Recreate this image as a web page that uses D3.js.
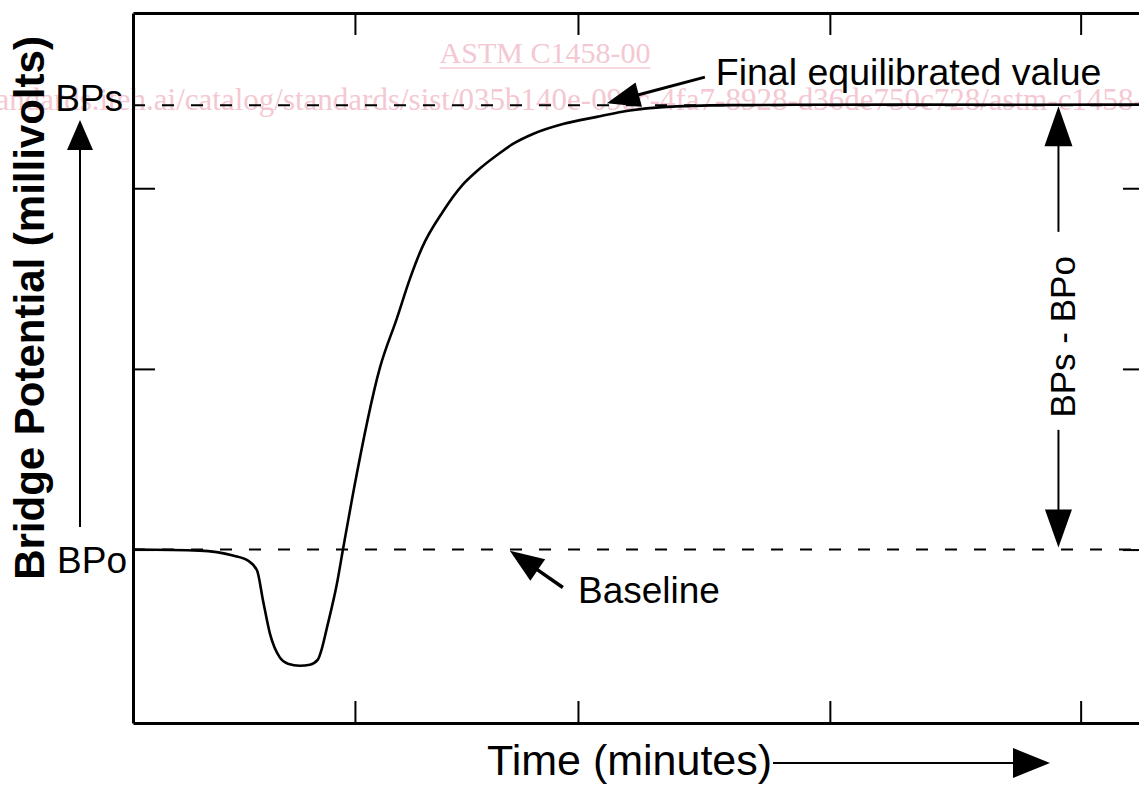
<!DOCTYPE html>
<html>
<head>
<meta charset="utf-8">
<script src="https://cdn.jsdelivr.net/npm/d3@7"></script>
<style>
  html, body { margin: 0; padding: 0; background: #fff; }
  svg { display: block; }
  text { font-family: "Liberation Sans", Arial, Helvetica, sans-serif; }
</style>
</head>
<body>
<svg id="chart" width="1139" height="785"></svg>
<script>
// trace: time (minutes) and bridge potential above BPo
const timeMin = [0, 3.0, 4.5, 5.18, 5.59, 5.86, 6.17, 6.62, 6.98, 7.52, 7.97, 8.33, 8.51, 8.74,
  9.19, 9.46, 9.9, 11.13, 11.89, 12.48, 13.02, 13.96, 14.86, 15.5, 16.53, 17.12, 18.02,
  19.37, 20.9, 22.39, 23.87, 26.89, 30, 35, 40, 45.6];
const potential = [0, -0.006, -0.033, -0.061, -0.116, -0.283, -0.465, -0.598, -0.632, -0.643,
  -0.637, -0.609, -0.548, -0.432, -0.188, 0, 0.30, 1.008, 1.28, 1.5, 1.67, 1.87, 2.02,
  2.095, 2.195, 2.245, 2.30, 2.355, 2.395, 2.43, 2.449, 2.46, 2.462, 2.463, 2.462, 2.463];

const xTickValues = [10, 20.05, 31.4, 42.7];
const yTickValues = [0, 1, 2];
const levelNames = ["BPo", "BPs"];
const levelValues = [0, 2.46];

const watermarkTitle = "ASTM C1458-00";
const watermarkUrl = "https://standards.iteh.ai/catalog/standards/sist/035b140e-09ac-4fa7-8928-d36de750c728/astm-c1458-00";

const svg = d3.select("#chart");
const plotL = 133, plotT = 13, plotR = 1145, plotB = 723;

const x = d3.scaleLinear().domain([0, 45.6]).range([plotL, plotR]);
const y = d3.scaleLinear().domain([-0.96, 2.97]).range([plotB, plotT]);

// watermark behind everything
const pink = "#f4c8d2";
const wm = svg.append("g").style("font-family", '"Liberation Serif", "Times New Roman", serif');
const wt = wm.append("text")
  .attr("x", 545).attr("y", 63)
  .attr("text-anchor", "middle")
  .style("font-family", "inherit")
  .style("font-size", "30px")
  .attr("fill", pink)
  .text(watermarkTitle);
const wtLen = wt.node().getComputedTextLength();
wm.append("line")
  .attr("x1", 545 - wtLen / 2).attr("x2", 545 + wtLen / 2)
  .attr("y1", 68).attr("y2", 68)
  .attr("stroke", pink).attr("stroke-width", 1.5);
const wu = wm.append("text")
  .attr("y", 110)
  .style("font-family", "inherit")
  .style("font-size", "31px")
  .attr("fill", pink)
  .text(watermarkUrl);
const idx = watermarkUrl.indexOf("/sist/");
wu.attr("x", 400 - wu.node().getSubStringLength(0, idx));

// dashed reference levels
svg.append("g").selectAll("line")
  .data(levelValues)
  .join("line")
  .attr("x1", plotL).attr("x2", plotR)
  .attr("y1", d => y(d)).attr("y2", d => y(d))
  .attr("stroke", "#000").attr("stroke-width", 2)
  .attr("stroke-dasharray", "12,17");

// frame with inward ticks on all four sides
function frame(axis, tr) {
  const g = svg.append("g").attr("transform", tr)
    .call(axis.tickSize(-22).tickSizeOuter(0).tickFormat(""));
  g.select(".domain").attr("stroke", "#000").attr("stroke-width", 3);
  g.selectAll(".tick line").attr("stroke", "#000").attr("stroke-width", 2);
}
frame(d3.axisBottom(x).tickValues(xTickValues), `translate(0,${plotB})`);
frame(d3.axisTop(x).tickValues(xTickValues), `translate(0,${plotT})`);
frame(d3.axisLeft(y).tickValues(yTickValues), `translate(${plotL},0)`);
frame(d3.axisRight(y).tickValues(yTickValues), `translate(${plotR},0)`);

// the trace
const line = d3.line()
  .x((d, i) => x(timeMin[i]))
  .y(d => y(d))
  .curve(d3.curveMonotoneX);
svg.append("path")
  .datum(potential)
  .attr("d", line)
  .attr("fill", "none")
  .attr("stroke", "#000")
  .attr("stroke-width", 2.6);

// arrow helper: shaft from tail to head base, filled triangle at tip
function arrow(x1, y1, x2, y2, len, wid, sw) {
  const dx = x2 - x1, dy = y2 - y1, d = Math.hypot(dx, dy);
  const ux = dx / d, uy = dy / d;
  const bx = x2 - ux * len, by = y2 - uy * len;
  svg.append("line")
    .attr("x1", x1).attr("y1", y1).attr("x2", bx + ux * 2).attr("y2", by + uy * 2)
    .attr("stroke", "#000").attr("stroke-width", sw || 2.5);
  svg.append("path")
    .attr("d", `M${x2},${y2}L${bx - uy * wid / 2},${by + ux * wid / 2}L${bx + uy * wid / 2},${by - ux * wid / 2}Z`)
    .attr("fill", "#000");
}

// level labels
svg.append("g").selectAll("text")
  .data(levelNames)
  .join("text")
  .attr("x", (d, i) => i === 0 ? 127 : 123)
  .attr("y", (d, i) => y(levelValues[i]) + (i === 0 ? 23 : 6))
  .attr("text-anchor", "end")
  .style("font-size", "37px")
  .text(d => d);

// y title
svg.append("text")
  .attr("transform", "translate(44,308) rotate(-90)")
  .attr("text-anchor", "middle")
  .style("font-size", "42px")
  .style("font-weight", "bold")
  .text("Bridge Potential (millivolts)");

// upward arrow next to the y title
arrow(80, 527, 80, 120, 30, 26, 2);

// x title and arrow
svg.append("text")
  .attr("x", 487).attr("y", 775)
  .style("font-size", "43px")
  .text("Time (minutes)");
arrow(773, 763, 1050, 763, 37, 30, 2);

// final value annotation
arrow(x(25.77), y(2.615), x(21.35), y(2.471), 33, 25, 3);
svg.append("text")
  .attr("x", x(26.26)).attr("y", y(2.571))
  .style("font-size", "37.5px")
  .text("Final equilibrated value");

// baseline annotation
arrow(x(19.37), y(-0.21), x(16.98), y(-0.006), 34, 26, 3.5);
svg.append("text")
  .attr("x", x(20.05)).attr("y", y(-0.294))
  .style("font-size", "37px")
  .text("Baseline");

// BPs - BPo span
const spanX = x(41.7);
const yTop = y(levelValues[1]) + 1, yBot = y(levelValues[0]) - 2;
const mid = (yTop + yBot) / 2 + 10;
arrow(spanX, mid - 105, spanX, yTop, 40, 28, 2);
arrow(spanX, mid + 93, spanX, yBot, 38, 27, 2);
svg.append("text")
  .attr("transform", `translate(${spanX + 17},${mid}) rotate(-90)`)
  .attr("text-anchor", "middle")
  .style("font-size", "35px")
  .text("BPs - BPo");
</script>
</body>
</html>
